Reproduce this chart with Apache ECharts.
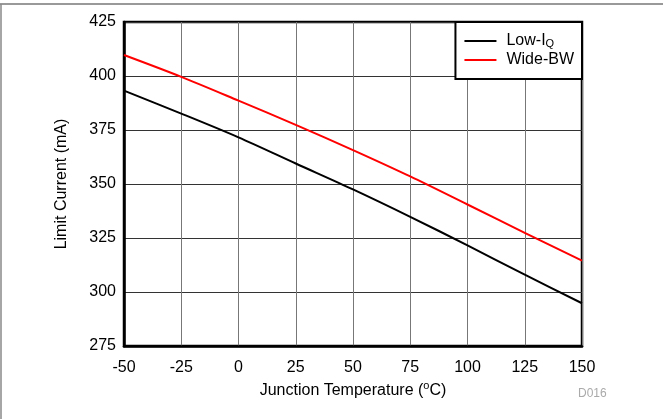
<!DOCTYPE html>
<html>
<head>
<meta charset="utf-8">
<script src="https://cdn.jsdelivr.net/npm/echarts@6/dist/echarts.min.js"></script>
<style>
html,body{margin:0;padding:0;background:#fff;}
#c{width:663px;height:419px;}
</style>
</head>
<body>
<div id="c"></div>
<script>
const temps = [-50, -25, 0, 25, 50, 75, 100, 125, 150];
const lowIQ = [393.2, 382.6, 371.6, 359.5, 347.5, 334.8, 321.6, 308.0, 294.8];
const wideBW = [409.7, 399.6, 388.6, 377.4, 365.7, 353.5, 340.5, 327.4, 314.5];
const seriesNames = ['Low-IQ', 'Wide-BW'];
const xTicks = [-50, -25, 0, 25, 50, 75, 100, 125, 150];
const yTicks = [275, 300, 325, 350, 375, 400, 425];

const font = 'Liberation Sans, Arial, Helvetica, sans-serif';
const chart = echarts.init(document.getElementById('c'));
chart.setOption({
  animation: false,
  backgroundColor: '#fff',
  grid: {left: 124, top: 22, right: 81, bottom: 73, show: true, borderColor: '#000', borderWidth: 2.5, backgroundColor: 'transparent'},
  xAxis: {
    type: 'value', min: xTicks[0], max: xTicks[xTicks.length - 1], interval: 25,
    name: '{n|Junction Temperature (}{sup|o}{n|C)}', nameLocation: 'middle', nameGap: 27,
    nameTextStyle: {
      color: '#000', fontFamily: font, fontSize: 16,
      rich: {sup: {fontSize: 11, verticalAlign: 'top', padding: [0, 0, 8, 0], fontFamily: font, color: '#000'}, n: {fontSize: 16, fontFamily: font, color: '#000'}}
    },
    axisLine: {show: true, onZero: false, lineStyle: {color: '#000', width: 2.5}},
    axisTick: {show: false},
    axisLabel: {color: '#000', fontFamily: font, fontSize: 16, margin: 14},
    splitLine: {show: true, lineStyle: {color: '#777', width: 1}}
  },
  yAxis: {
    type: 'value', min: yTicks[0], max: yTicks[yTicks.length - 1], interval: 25,
    name: 'Limit Current (mA)', nameLocation: 'middle', nameGap: 54,
    nameTextStyle: {color: '#000', fontFamily: font, fontSize: 16},
    axisLine: {show: true, onZero: false, lineStyle: {color: '#000', width: 2.5}},
    axisTick: {show: false},
    axisLabel: {color: '#000', fontFamily: font, fontSize: 16, margin: 8},
    splitLine: {show: true, lineStyle: {color: '#333', width: 1}}
  },
  legend: {
    right: 81, top: 22, orient: 'vertical',
    backgroundColor: '#fff', borderColor: '#000', borderWidth: 2,
    padding: [11, 8, 11, 9], itemGap: 3, itemWidth: 32, itemHeight: 14,
    icon: 'path://M0,6 L32,6 L32,8 L0,8 Z',
    textStyle: {
      color: '#000', fontFamily: font, fontSize: 16, lineHeight: 16, padding: [0, 0, 0, 5],
      rich: {sub: {fontSize: 11, verticalAlign: 'bottom', padding: [7, 0, 0, 0], fontFamily: font, color: '#000'}, n: {fontSize: 16, fontFamily: font, color: '#000'}}
    },
    formatter: function (n) { return n === 'Low-IQ' ? '{n|Low-I}{sub|Q}' : '{n|' + n + '}'; },
    data: seriesNames
  },
  series: [
    {name: seriesNames[0], type: 'line', data: temps.map((t, i) => [t, lowIQ[i]]), showSymbol: false, smooth: 0.3, lineStyle: {color: '#000', width: 2}, itemStyle: {color: '#000'}, z: 3},
    {name: seriesNames[1], type: 'line', data: temps.map((t, i) => [t, wideBW[i]]), showSymbol: false, smooth: 0.3, lineStyle: {color: '#ff0000', width: 2}, itemStyle: {color: '#ff0000'}, z: 3}
  ],
  graphic: [
    {type: 'line', shape: {x1: 0, y1: 4, x2: 663, y2: 4}, style: {stroke: '#777', lineWidth: 1.5}},
    {type: 'line', shape: {x1: 1, y1: 4, x2: 1, y2: 419}, style: {stroke: '#888', lineWidth: 1.5}},
    {type: 'text', left: 578, top: 388, style: {text: 'D016', fill: '#aaa', font: '12px ' + font}}
  ]
});
</script>
</body>
</html>
